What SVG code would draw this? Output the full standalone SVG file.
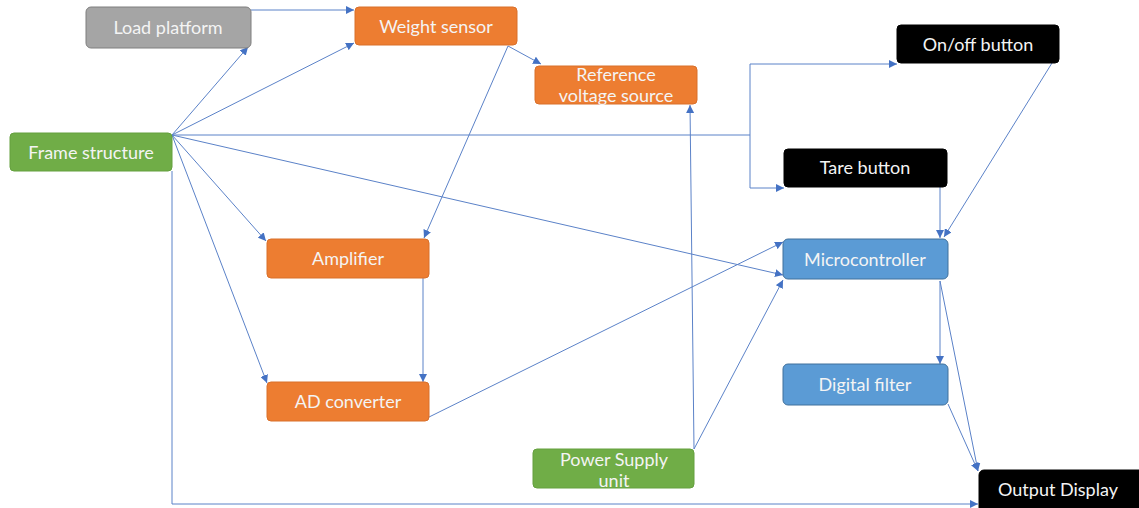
<svg xmlns="http://www.w3.org/2000/svg" width="1139" height="508" viewBox="0 0 1139 508">
  <style>
    .box { stroke-width: 1; }
    .gray { fill: #a5a5a5; stroke: #7f7f7f; }
    .orange { fill: #ed7d31; stroke: #d9702b; }
    .green { fill: #70ad47; stroke: #64a03e; }
    .blue { fill: #5b9bd5; stroke: #41719c; }
    .black { fill: #000000; stroke: #000000; }
    .label { font-family: Lato, "Liberation Sans", sans-serif; font-size: 18px; fill: #f4f4f4; text-anchor: middle; dominant-baseline: central; }
    .link { fill: none; stroke: #5b82c8; stroke-width: 1; }
  </style>
  <defs>
    <marker id="arrow" viewBox="0 0 10 10" refX="10" refY="5" markerWidth="8" markerHeight="8" markerUnits="userSpaceOnUse" orient="auto">
      <path d="M0,0 L10,5 L0,10 z" fill="#4472c4"/>
    </marker>
  </defs>
  <rect width="1139" height="508" fill="#ffffff"/>

  <!-- connectors -->
  <g id="connectors" marker-end="url(#arrow)">
    <path class="link" d="M251,10 L354,10"/>
    <path class="link" d="M172,135 L248,47"/>
    <path class="link" d="M172,135 L354,43"/>
    <path class="link" d="M172,135 L750,135 L750,64 L897,64"/>
    <path class="link" d="M750,135 L750,188 L784,188"/>
    <path class="link" d="M172,135 L266,241"/>
    <path class="link" d="M172,135 L267,383"/>
    <path class="link" d="M172,135 L783,275"/>
    <path class="link" d="M172,171 L172,504 L978,504"/>
    <path class="link" d="M508,46 L541,64"/>
    <path class="link" d="M508,46 L424,238"/>
    <path class="link" d="M423,278 L423,382"/>
    <path class="link" d="M423,420 L783,242"/>
    <path class="link" d="M694,449 L690,105"/>
    <path class="link" d="M694,449 L783,280"/>
    <path class="link" d="M940,187 L940,238"/>
    <path class="link" d="M1052,63 L944,237"/>
    <path class="link" d="M940,281 L940,364"/>
    <path class="link" d="M940,281 L978,471"/>
    <path class="link" d="M948,404 L978,471"/>
  </g>

  <!-- nodes -->
  <g id="load-platform">
    <rect class="box gray" x="86" y="7" width="165" height="41" rx="5"/>
    <text class="label" x="168" y="27">Load platform</text>
  </g>
  <g id="weight-sensor">
    <rect class="box orange" x="355" y="7" width="162" height="38" rx="4"/>
    <text class="label" x="436" y="26">Weight sensor</text>
  </g>
  <g id="reference-voltage-source">
    <rect class="box orange" x="535" y="66" width="162" height="38" rx="4"/>
    <text class="label" x="616" y="74">Reference</text>
    <text class="label" x="616" y="95">voltage source</text>
  </g>
  <g id="on-off-button">
    <rect class="box black" x="897" y="25" width="162" height="38" rx="4"/>
    <text class="label" x="978" y="44">On/off button</text>
  </g>
  <g id="tare-button">
    <rect class="box black" x="784" y="149" width="163" height="38" rx="4"/>
    <text class="label" x="865" y="167">Tare button</text>
  </g>
  <g id="frame-structure">
    <rect class="box green" x="10" y="133" width="162" height="38" rx="4"/>
    <text class="label" x="91" y="152">Frame structure</text>
  </g>
  <g id="amplifier">
    <rect class="box orange" x="267" y="239" width="162" height="39" rx="4"/>
    <text class="label" x="348" y="258">Amplifier</text>
  </g>
  <g id="ad-converter">
    <rect class="box orange" x="267" y="382" width="162" height="39" rx="4"/>
    <text class="label" x="348" y="401">AD converter</text>
  </g>
  <g id="microcontroller">
    <rect class="box blue" x="783" y="239" width="165" height="40" rx="5"/>
    <text class="label" x="865" y="259">Microcontroller</text>
  </g>
  <g id="digital-filter">
    <rect class="box blue" x="783" y="364" width="165" height="41" rx="5"/>
    <text class="label" x="865" y="384">Digital filter</text>
  </g>
  <g id="power-supply-unit">
    <rect class="box green" x="533" y="449" width="161" height="39" rx="4"/>
    <text class="label" x="614" y="459">Power Supply</text>
    <text class="label" x="614" y="480">unit</text>
  </g>
  <g id="output-display">
    <rect class="box black" x="979" y="470" width="170" height="44" rx="5"/>
    <text class="label" x="1058" y="489">Output Display</text>
  </g>
</svg>
